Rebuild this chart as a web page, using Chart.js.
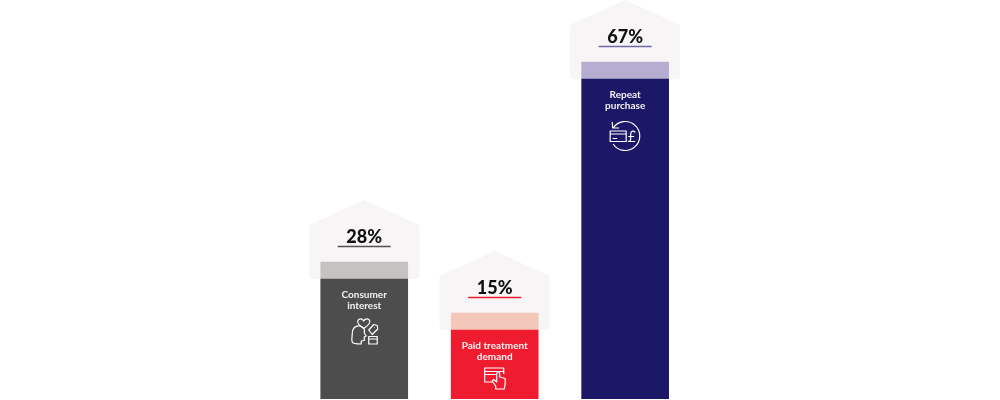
<!DOCTYPE html>
<html>
<head>
<meta charset="utf-8">
<style>
  html, body { margin: 0; padding: 0; background: #fff; }
  #wrap { width: 1000px; height: 400px; }
</style>
<script src="https://cdn.jsdelivr.net/npm/chart.js@4"></script>
</head>
<body>
<div id="wrap"><canvas id="chart"></canvas></div>
<script>
// data
var categories = [["Consumer", "interest"], ["Paid treatment", "demand"], ["Repeat", "purchase"]];
var valueLabels = ["28%", "15%", "67%"];
var solidHeights = [24, 13.8, 64];
var capHeights = [3.4, 3.4, 3.4];

var solidColors = ["#4d4d4d", "#ee1c2e", "#1c1868"];
var capColors = ["#c6c2c2", "#f3c7b9", "#b5aed1"];
var ruleColors = ["#55504f", "#ee1c2e", "#6f68a9"];

// icons are drawn around the centre of the icon (0,0)
function iconConsumer(ctx) {
    ctx.stroke(new Path2D("M-4 -5 C-9 -6 -12.5 -2 -12 3 C-12 6 -13 8 -12 11 C-11.5 13 -8 13 -3 13 L-3 10 L0 9.5 L0 6 L2 5 L0 2 C1 -2 -1 -4 -4 -5 Z"));
    ctx.stroke(new Path2D("M-0.5 -2.5 C-5 -5.5 -7 -8 -6.5 -10 C-6 -12.5 -2 -13 -0.5 -10 C1 -13 5 -12.5 5.5 -10 C6 -8 4 -5.5 -0.5 -2.5 Z"));
    ctx.stroke(new Path2D("M4.5 -1 L9.5 -6.5 L13 -5.5 L13.5 -2 L8 3.5 Z M10 -3.5 L10.5 -3.5"));
    ctx.stroke(new Path2D("M4.5 5.5 H13 V13 H4.5 Z M4.5 8 H13"));
}
function iconCard(ctx) {
    ctx.stroke(new Path2D("M-2 4 H-10 V-10 H9 V-4 M-10 -6.5 H9 M-10 -3.5 H1"));
    ctx.stroke(new Path2D("M1 11 L1 8 L-2.5 3 L-1 1.5 L2 4 L2 -4 C2 -6.5 5 -6.5 5 -4 L5 -1 L10.5 0.5 L10.5 6 L9.5 11 Z M0.5 11 H10"));
}
function iconRepeat(ctx) {
    ctx.stroke(new Path2D("M-12 -8 A14.5 14.5 0 1 1 -12 8 M-13 -14 L-12.5 -8 L-6 -8"));
    ctx.stroke(new Path2D("M-15 -5 H1 V5.5 H-15 Z M-15 -2 H1 M-12.5 2.5 H-8"));
    ctx.stroke(new Path2D("M10 -3.5 C9 -6 5.5 -5 5.5 -2 L5.5 3 C5.5 4.5 4.5 5.5 3 5.5 H10 M3 0.5 H9"));
}
var icons = [iconConsumer, iconCard, iconRepeat];
var iconOffsets = [69, 65, 74]; // px below bar top

// pale house shape behind each bar
var housePlugin = {
    id: "house",
    beforeDatasetsDraw: function (chart) {
        var ctx = chart.ctx;
        var meta = chart.getDatasetMeta(1);
        ctx.save();
        meta.data.forEach(function (bar) {
            var x = bar.x, top = bar.y, r = 4;
            ctx.beginPath();
            ctx.moveTo(x, top - 62);
            ctx.lineTo(x + 55, top - 37);
            ctx.lineTo(x + 55, top + 17 - r);
            ctx.quadraticCurveTo(x + 55, top + 17, x + 55 - r, top + 17);
            ctx.lineTo(x - 55 + r, top + 17);
            ctx.quadraticCurveTo(x - 55, top + 17, x - 55, top + 17 - r);
            ctx.lineTo(x - 55, top - 37);
            ctx.closePath();
            ctx.fillStyle = "#f7f5f6";
            ctx.fill();
        });
        ctx.restore();
    },
    afterDatasetsDraw: function (chart) {
        var ctx = chart.ctx;
        var meta = chart.getDatasetMeta(1);
        ctx.save();
        ctx.textAlign = "center";
        ctx.textBaseline = "middle";
        meta.data.forEach(function (bar, i) {
            var x = bar.x, top = bar.y;

            ctx.fillStyle = "#111111";
            ctx.font = "900 18px Lato";
            ctx.fillText(valueLabels[i], x, top - 25);

            ctx.strokeStyle = ruleColors[i];
            ctx.lineWidth = 1.5;
            ctx.beginPath();
            ctx.moveTo(x - 26.5, top - 15.5);
            ctx.lineTo(x + 26.5, top - 15.5);
            ctx.stroke();

            ctx.fillStyle = "#f4f2f2";
            ctx.font = "bold 10px Lato";
            categories[i].forEach(function (line, j) {
                ctx.fillText(line, x, top + 32.5 + j * 11);
            });

            ctx.save();
            ctx.translate(x, top + iconOffsets[i]);
            ctx.strokeStyle = "#ffffff";
            ctx.lineWidth = 1.2;
            ctx.lineJoin = "round";
            icons[i](ctx);
            ctx.restore();
        });
        ctx.restore();
    },
};

new Chart(document.getElementById("chart"), {
    type: "bar",
    data: {
        labels: categories.map(function (c) { return c.join(" "); }),
        datasets: [
            { data: solidHeights, backgroundColor: solidColors, barThickness: 87 },
            { data: capHeights, backgroundColor: capColors, barThickness: 87 },
        ],
    },
    options: {
        responsive: true,
        maintainAspectRatio: false,
        animation: false,
        layout: { padding: { left: 299, right: 309.6, top: 0, bottom: 1 } },
        plugins: { legend: { display: false }, tooltip: { enabled: false } },
        scales: {
            x: { stacked: true, display: false },
            y: { stacked: true, display: false, min: 0, max: 79.8 },
        },
    },
    plugins: [housePlugin],
});
</script>
</body>
</html>
